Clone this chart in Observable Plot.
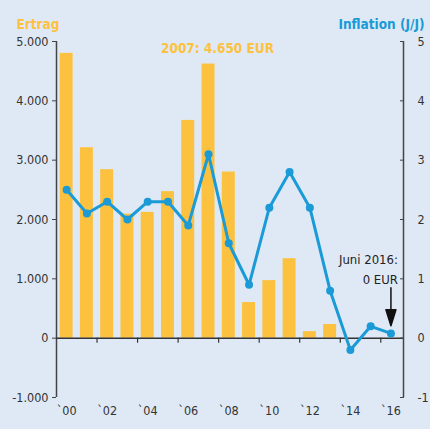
<!DOCTYPE html>
<html><head><meta charset="utf-8">
<script src="https://cdn.jsdelivr.net/npm/d3@7"></script>
<script src="https://cdn.jsdelivr.net/npm/@observablehq/plot@0.6"></script>
<style>
html,body{margin:0;padding:0;background:#dfe9f5;}
#chart svg{display:block;}
</style></head><body><div id="chart"></div>
<script>
const years = [2000,2001,2002,2003,2004,2005,2006,2007,2008,2009,2010,2011,2012,2013,2014,2015,2016];
const ertrag = [4800,3210,2840,2090,2120,2470,3670,4620,2800,600,970,1340,110,230,0,0,0];
const inflation = [2.5,2.1,2.3,2.0,2.3,2.3,1.9,3.1,1.6,0.9,2.2,2.8,2.2,0.8,-0.2,0.2,0.08];
const yTicks = [-1000,0,1000,2000,3000,4000,5000];
const xLabelYears = [2000,2002,2004,2006,2008,2010,2012,2014,2016];
const xDomain = [1999.5, 2016.62];
const highlightYear = 2007, highlightText = "2007: 4.650 EUR", highlightValue = 4650;
const noteYear = 2016, noteText = "Juni 2016:\n0 EUR";

const data = years.map((year, i) => ({year, ertrag: ertrag[i], infl: inflation[i] * 1000}));

const orange = "#fcc23f", blue = "#1a9ad6", ink = "#333";
const barHalf = 0.32;

const arrowShape = {draw(ctx, l) {
  const hw = 5, hl = 16;
  ctx.moveTo(0, 0); ctx.lineTo(0, -l + hl);
  ctx.moveTo(-hw, -l + hl); ctx.lineTo(0, -l); ctx.lineTo(hw, -l + hl); ctx.closePath();
}};
const tickShape = {draw(ctx, l) { ctx.moveTo(0, 0); ctx.lineTo(0, -l); }};

const chart = Plot.plot({
  width: 430, height: 429,
  marginLeft: 56, marginRight: 27, marginTop: 41, marginBottom: 32,
  style: {background: "#dfe9f5", fontFamily: "'DejaVu Sans Condensed', 'Liberation Sans Narrow', sans-serif", fontSize: "12.5px", color: ink},
  x: {domain: xDomain, axis: null},
  y: {domain: [-1000, 5000], axis: null},
  marks: [
    Plot.rectY(data, {x1: d => d.year - barHalf, x2: d => d.year + barHalf, y1: 0, y2: "ertrag", fill: orange}),
    Plot.ruleX([xDomain[0], xDomain[1]], {stroke: "#444", strokeWidth: 1.5}),
    Plot.ruleY([0], {stroke: "#333", strokeWidth: 1.5}),
    Plot.vector(xLabelYears.slice(1), {x: d => d - 0.5, y: 0, length: 4, rotate: 180, anchor: "start", shape: tickShape, stroke: "#333", strokeWidth: 1.2}),
    Plot.axisY(yTicks, {anchor: "left", label: null, tickSize: 4, tickPadding: 4, tickFormat: d => d.toLocaleString("de-DE"), stroke: "#444", fill: ink, fontSize: 12.5}),
    Plot.axisY(yTicks, {anchor: "right", label: null, tickSize: 4, dx: -4, text: null, stroke: "#444"}),
    Plot.axisY(yTicks, {anchor: "right", label: null, tickSize: 0, tickPadding: 14, tickFormat: d => String(d / 1000), fill: ink, fontSize: 12.5}),
    Plot.axisX(xLabelYears, {anchor: "bottom", label: null, tickSize: 0, tickPadding: 9, tickFormat: d => "`" + String(d).slice(2), fill: ink, fontSize: 12.5}),
    Plot.line(data, {x: "year", y: "infl", stroke: blue, strokeWidth: 3}),
    Plot.dot(data, {x: "year", y: "infl", r: 4, fill: blue}),
    Plot.text([highlightText], {text: d => d, x: highlightYear, y: highlightValue, dx: 9, dy: -14, fill: orange, fontWeight: "bold", fontSize: 13.5}),
    Plot.text([noteText], {text: d => d, x: noteYear, y: 0, dx: 7, dy: -70.5, textAnchor: "end", lineHeight: 1.5, fill: "#222", fontSize: 13}),
    Plot.vector([noteYear], {x: d => d, y: 0, length: 38, rotate: 180, anchor: "end", dy: -12.5, shape: arrowShape, stroke: "#111", fill: "#111", strokeWidth: 1.5}),
    Plot.text(["Ertrag"], {text: d => d, frameAnchor: "top-left", dx: -40, dy: -22, textAnchor: "start", fill: orange, fontWeight: "bold", fontSize: 13.5}),
    Plot.text(["Inflation (J/J)"], {text: d => d, frameAnchor: "top-right", dx: 21, dy: -22, textAnchor: "end", fill: blue, fontWeight: "bold", fontSize: 13.5})
  ]
});
document.getElementById("chart").appendChild(chart);
</script></body></html>
